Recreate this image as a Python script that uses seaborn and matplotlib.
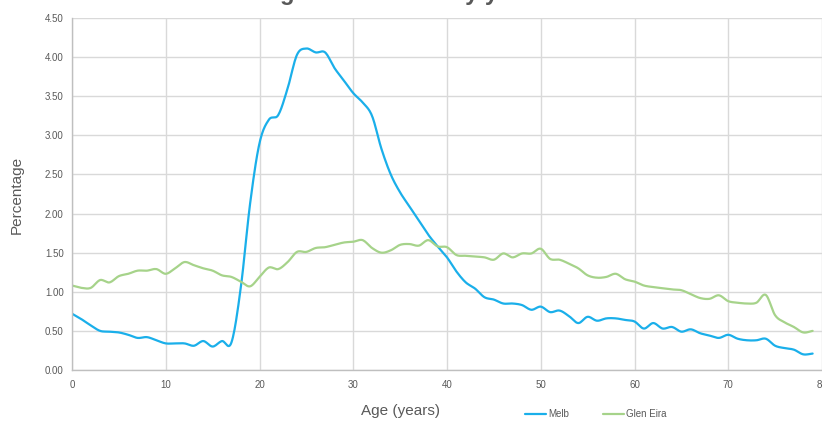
import numpy as np
import pandas as pd
import matplotlib
matplotlib.use("Agg")
import matplotlib.pyplot as plt
import seaborn as sns
from matplotlib.lines import Line2D

# Share of population at each single year of age (%)
ages = list(range(0, 80))
melb = [0.72, 0.65, 0.57, 0.50, 0.49, 0.48, 0.45, 0.41, 0.42, 0.38,
        0.34, 0.34, 0.34, 0.31, 0.37, 0.30, 0.37, 0.35, 1.05, 2.13,
        2.90, 3.20, 3.26, 3.60, 4.03, 4.11, 4.06, 4.06, 3.86, 3.70,
        3.54, 3.42, 3.25, 2.83, 2.50, 2.27, 2.09, 1.91, 1.73, 1.58,
        1.44, 1.26, 1.12, 1.04, 0.93, 0.90, 0.85, 0.85, 0.83, 0.77,
        0.81, 0.74, 0.76, 0.69, 0.60, 0.68, 0.63, 0.66, 0.66, 0.64,
        0.62, 0.53, 0.60, 0.53, 0.55, 0.49, 0.52, 0.47, 0.44, 0.41,
        0.45, 0.40, 0.38, 0.38, 0.40, 0.31, 0.28, 0.26, 0.20, 0.21]
glen_eira = [1.08, 1.05, 1.05, 1.15, 1.12, 1.20, 1.23, 1.27, 1.27, 1.29,
             1.23, 1.30, 1.38, 1.34, 1.30, 1.27, 1.21, 1.19, 1.13, 1.07,
             1.19, 1.31, 1.29, 1.38, 1.51, 1.51, 1.56, 1.57, 1.60, 1.63,
             1.64, 1.66, 1.56, 1.50, 1.53, 1.60, 1.61, 1.59, 1.66, 1.58,
             1.57, 1.47, 1.46, 1.45, 1.44, 1.41, 1.49, 1.44, 1.49, 1.49,
             1.55, 1.42, 1.41, 1.36, 1.30, 1.21, 1.18, 1.19, 1.23, 1.16,
             1.13, 1.08, 1.06, 1.045, 1.03, 1.02, 0.97, 0.92, 0.91, 0.955,
             0.88, 0.86, 0.85, 0.86, 0.96, 0.70, 0.61, 0.55, 0.48, 0.50]
series_names = ["Melb", "Glen Eira"]
series_colors = ["#1AAFEA", "#A6D38A"]
y_ticks = [0.0, 0.5, 1.0, 1.5, 2.0, 2.5, 3.0, 3.5, 4.0, 4.5]
x_ticks = [0, 10, 20, 30, 40, 50, 60, 70, 80]


def smooth(x, y, steps=12):
    """Catmull-Rom curve through the points, like a smoothed line chart."""
    x = np.asarray(x, float)
    y = np.asarray(y, float)
    px = np.concatenate([[2 * x[0] - x[1]], x, [2 * x[-1] - x[-2]]])
    py = np.concatenate([[2 * y[0] - y[1]], y, [2 * y[-1] - y[-2]]])
    t = np.linspace(0, 1, steps, endpoint=False)
    xs, ys = [], []
    for i in range(1, len(px) - 2):
        for arr, out in ((px, xs), (py, ys)):
            p0, p1, p2, p3 = arr[i - 1], arr[i], arr[i + 1], arr[i + 2]
            out.extend(0.5 * ((2 * p1) + (-p0 + p2) * t
                              + (2 * p0 - 5 * p1 + 4 * p2 - p3) * t ** 2
                              + (-p0 + 3 * p1 - 3 * p2 + p3) * t ** 3))
    xs.append(x[-1])
    ys.append(y[-1])
    return np.array(xs), np.array(ys)


frames = []
for name, vals in zip(series_names, [melb, glen_eira]):
    sx, sy = smooth(ages, vals)
    frames.append(pd.DataFrame({"Age": sx, "Percentage": sy, "Area": name}))
df = pd.concat(frames, ignore_index=True)

sns.set_theme(style="white")
plt.rcParams["font.family"] = ["Liberation Sans Narrow", "Liberation Sans", "DejaVu Sans"]

fig = plt.figure(figsize=(8.22, 4.22), dpi=100)
ax = fig.add_axes([72 / 822, 52 / 422, 750 / 822, 352 / 422])

sns.lineplot(data=df, x="Age", y="Percentage", hue="Area",
             palette=dict(zip(series_names, series_colors)),
             linewidth=1.6, ax=ax, legend=False, sort=False,
             estimator=None)

ax.set_xlim(0, 80)
ax.set_ylim(0, 4.5)
ax.set_xticks(x_ticks)
ax.set_yticks(y_ticks)
ax.set_xticklabels([str(v) for v in x_ticks])
ax.set_yticklabels([f"{v:.2f}" for v in y_ticks])
ax.grid(True, color="#D9D9D9", linewidth=1.0)
ax.set_axisbelow(True)
for side in ("top", "right"):
    ax.spines[side].set_visible(False)
for side in ("left", "bottom"):
    ax.spines[side].set_color("#BFBFBF")
    ax.spines[side].set_linewidth(1.0)
ax.tick_params(axis="both", length=0, labelsize=7, colors="#595959")
ax.tick_params(axis="x", pad=7)
ax.tick_params(axis="y", pad=6)
ax.set_xlabel("")
ax.set_ylabel("")

fig.text(17 / 822, 1 - 195 / 422, "Percentage", rotation=90,
         ha="center", va="center", fontsize=11, color="#595959",
         family=["Liberation Sans", "DejaVu Sans"])
fig.text(400 / 822, 1 - 411 / 422, "Age (years)", ha="center",
         va="center", fontsize=11, color="#595959",
         family=["Liberation Sans", "DejaVu Sans"])
fig.text(398 / 822, 1.0, "Age distribution by year", ha="center",
         va="baseline", fontsize=17, color="#595959", fontweight="bold",
         family=["Liberation Sans", "DejaVu Sans"])

handles = [Line2D([0], [0], color=c, linewidth=1.6) for c in series_colors]
fig.legend(handles, series_names, loc="center left",
           bbox_to_anchor=(516 / 822, 1 - 414 / 422), ncol=2,
           frameon=False, fontsize=7, labelcolor="#595959",
           handlelength=2.2, handletextpad=0.2, columnspacing=3.5)

fig.savefig("out.png", dpi=100)
